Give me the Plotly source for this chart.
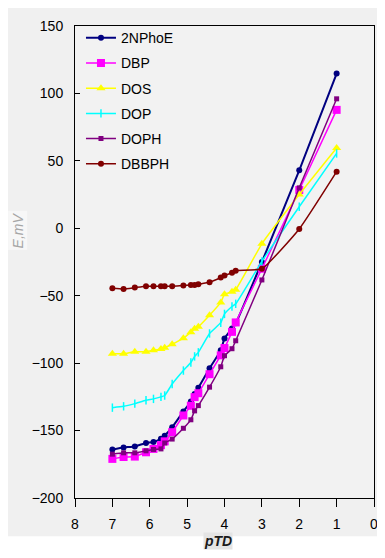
import plotly.graph_objects as go

ptd = [7.0, 6.7, 6.4, 6.1, 5.9, 5.7, 5.6, 5.4, 5.1, 4.9, 4.8, 4.7, 4.4, 4.1, 4.0, 3.8, 3.7, 3.0, 2.0, 1.0]

e_2nphoe = [-164, -162.5, -161.8, -159.2, -158.5, -156, -153.8, -147.5, -135.8, -128.5,
            -122.8, -118.2, -103.8, -90.5, -81.7, -74.4, -70.5, -25, 43, 114.7]
e_dbp = [-171, -169.6, -169.3, -166.1, -163.6, -160.8, -158, -151.2, -138.8, -131.6,
         -125.2, -122.3, -108.2, -94.2, -88.8, -76.8, -69.8, -30, 28.4, 87.8]
e_dos = [-93, -93, -91.5, -91.5, -90.5, -89.5, -88.5, -86, -81.5, -77,
         -74.5, -73, -64.5, -55, -49, -47, -45.5, -11.5, 25, 59.5]
e_dop = [-133, -132, -130, -127.5, -126.5, -125, -124, -115.5, -105.5, -99.5,
         -95, -92, -78, -70, -63.5, -58, -56, -24.5, 16, 55.5]
e_doph = [-167.5, -166.5, -166.5, -165, -164, -163.6, -159.2, -156.3, -148.3, -142,
          -135.4, -131.5, -117.8, -102.7, -94.5, -89.3, -83.4, -38.3, 30, 96]
e_dbbph = [-44.5, -45, -44, -43, -43, -43, -43, -43, -42.5, -42,
           -42, -41.5, -40, -36.5, -35, -33, -31.5, -30, -0.5, 42]

series = [
    ("2NPhoE", e_2nphoe, "#000080", dict(symbol="circle", size=6), 2),
    ("DBP", e_dbp, "#ff00ff", dict(symbol="square", size=8), 1.5),
    ("DOS", e_dos, "#ffff00", dict(symbol="triangle-up", size=8), 1.5),
    ("DOP", e_dop, "#00ffff", dict(symbol="line-ns", size=6, line=dict(width=1.5, color="#00ffff")), 1.5),
    ("DOPH", e_doph, "#800080", dict(symbol="square", size=5), 1.5),
    ("DBBPH", e_dbbph, "#800000", dict(symbol="circle", size=6), 1.5),
]

fig = go.Figure()
for name, vals, col, mk, lw in series:
    mk = dict(mk)
    mk["color"] = col
    fig.add_trace(go.Scatter(
        x=ptd, y=vals, name=name, mode="lines+markers",
        line=dict(color=col, width=lw, shape="spline", smoothing=0.4),
        marker=mk, legendgroup=name,
    ))

fig.update_layout(
    width=385, height=558,
    margin=dict(l=67, r=19, t=10, b=68),
    paper_bgcolor="#f0f0f0", plot_bgcolor="#f2f2f2",
    font=dict(family="Liberation Sans, Arial", size=14, color="#000000"),
    showlegend=True,
    legend=dict(x=0.02, y=1.008, xanchor="left", yanchor="top",
                bgcolor="rgba(0,0,0,0)", tracegroupgap=4,
                font=dict(size=14, color="#000000")),
    xaxis=dict(range=[8, 0], dtick=1, tick0=0, showgrid=False, zeroline=False,
               showline=True, linecolor="#000000", linewidth=1, mirror=True,
               ticks="outside", ticklen=8, tickcolor="#000000",
               ticklabelstandoff=5),
    yaxis=dict(range=[-200, 150], dtick=50, showgrid=False, zeroline=False,
               showline=True, linecolor="#000000", linewidth=1, mirror=True,
               ticks="inside", ticklen=5, tickcolor="#000000",
               ticklabelstandoff=8),
    shapes=[dict(type="rect", xref="paper", yref="paper",
                 x0=-0.3, x1=1.1, y0=-0.08125, y1=-0.2,
                 fillcolor="#ffffff", line=dict(width=0), layer="above")],
    annotations=[
        dict(text="<i>E,mV</i>", xref="paper", yref="paper", x=-0.224, y=0.567,
             showarrow=False, textangle=-90, font=dict(size=14, color="#a6a6a6"),
             bgcolor="#f7f7f7"),
        dict(text="<b><i>pTD</i></b>", xref="paper", yref="paper", x=0.478, y=-0.11,
             showarrow=False, font=dict(size=14, color="#1a1a1a"),
             bgcolor="#e4e4e4", borderpad=0),
    ],
)

fig.write_html("out.html")
